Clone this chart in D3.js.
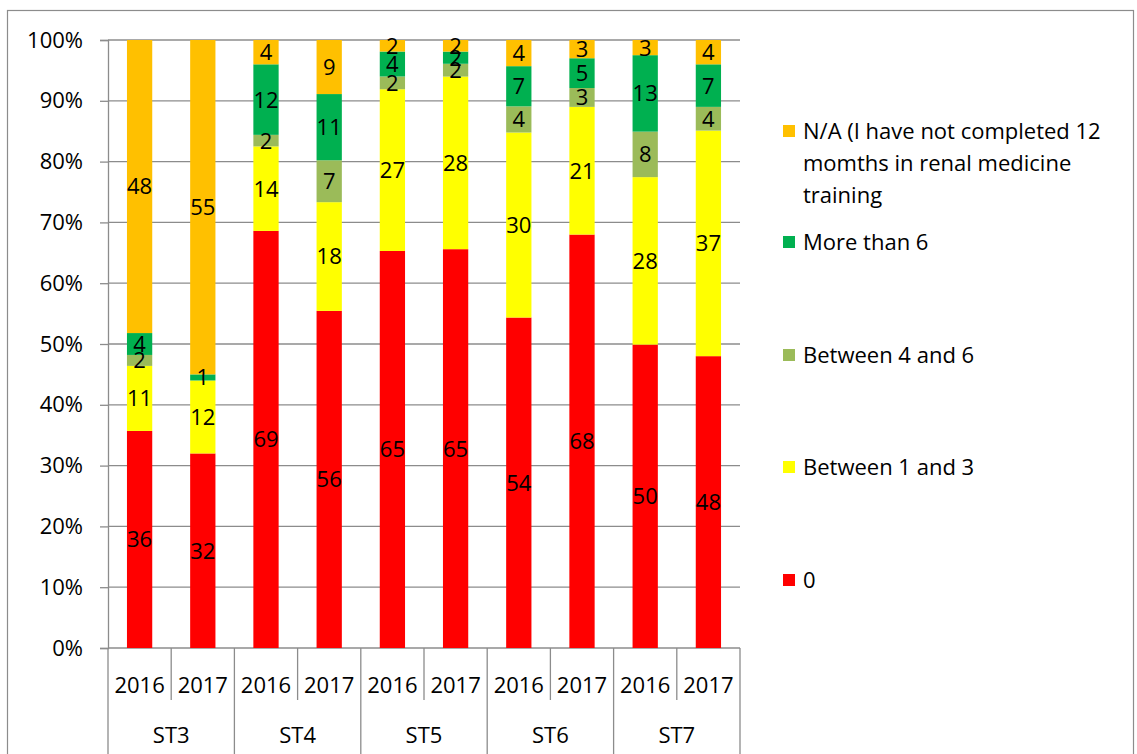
<!DOCTYPE html>
<html>
<head>
<meta charset="utf-8">
<script src="https://cdn.jsdelivr.net/npm/d3@7"></script>
<style>
  body { margin: 0; background: #fff; }
  text { font-family: "Open Sans", "Noto Sans", sans-serif; fill: #000; }
</style>
</head>
<body>
<svg id="chart" width="1137" height="754"></svg>
<script>
// data (percent of respondents)
var groups = ["ST3", "ST4", "ST5", "ST6", "ST7"];
var years = ["2016", "2017"];
var seriesNames = ["0", "Between 1 and 3", "Between 4 and 6", "More than 6",
                   "N/A (I have not completed 12 momths in renal medicine training"];
var seriesColors = ["#ff0000", "#ffff00", "#9bbb59", "#00b050", "#ffc000"];
var legendLines = [["0"], ["Between 1 and 3"], ["Between 4 and 6"], ["More than 6"],
                   ["N/A (I have not completed 12", "momths in renal medicine", "training"]];

// one array per series, in the order ST3 2016, ST3 2017, ST4 2016, ...
var zero       = [35.7, 32.0, 68.6, 55.5, 65.3, 65.4, 54.3, 68.0, 50.0, 48.0];
var oneToThree = [10.7, 12.0, 13.9, 17.9, 26.6, 28.3, 30.4, 21.0, 27.6, 37.1];
var fourToSix  = [1.8, 0, 1.9, 6.9, 2.1, 2.1, 4.3, 3.1, 7.5, 3.9];
var moreThan6  = [3.6, 1.0, 11.6, 10.9, 4.1, 2.0, 6.6, 4.9, 12.6, 7.0];
var notApplic  = [48.2, 55.0, 4.0, 8.9, 1.9, 1.9, 4.3, 3.0, 2.5, 4.0];
var yTicks = [0, 0.1, 0.2, 0.3, 0.4, 0.5, 0.6, 0.7, 0.8, 0.9, 1];

var seriesValues = [zero, oneToThree, fourToSix, moreThan6, notApplic];

var margin = {top: 40, left: 108},
    width = 632,
    height = 608;

var svg = d3.select("#chart");

// outer frame
svg.append("rect")
    .attr("x", 7.5).attr("y", 10.5)
    .attr("width", 1126).attr("height", 760)
    .attr("fill", "none").attr("stroke", "#8c8c8c").attr("stroke-width", 1.2);

var g = svg.append("g")
    .attr("transform", "translate(" + margin.left + "," + margin.top + ")");

var keys = [];
groups.forEach(function(gr) {
    years.forEach(function(yr) { keys.push(gr + "|" + yr); });
});

var x = d3.scaleBand()
    .domain(keys)
    .range([0, width])
    .paddingInner(0.6)
    .paddingOuter(0.3);

var y = d3.scaleLinear()
    .domain([0, 1])
    .range([height, 0]);

// rows for the stack, normalised to 100%
var rows = keys.map(function(k, i) {
    var total = d3.sum(seriesValues, function(s) { return s[i]; });
    var row = {key: k};
    seriesValues.forEach(function(s, j) { row["s" + j] = s[i] / total; row["v" + j] = s[i]; });
    return row;
});

var stack = d3.stack().keys(seriesValues.map(function(d, j) { return "s" + j; }));
var layers = stack(rows);

// gridlines
g.selectAll(".grid")
    .data(yTicks)
    .enter().append("line")
    .attr("x1", 0).attr("x2", width)
    .attr("y1", function(d) { return y(d); })
    .attr("y2", function(d) { return y(d); })
    .attr("stroke", "#8c8c8c").attr("stroke-width", 1.3);

// y axis
var yAxis = d3.axisLeft(y)
    .tickValues(yTicks)
    .tickFormat(d3.format(".0%"))
    .tickSize(8)
    .tickPadding(17);

var ya = g.append("g").call(yAxis);
ya.select(".domain").attr("stroke", "#8c8c8c").attr("stroke-width", 1.3);
ya.selectAll(".tick line").attr("stroke", "#8c8c8c").attr("stroke-width", 1.3);
ya.selectAll(".tick text").style("font-size", "22px").attr("font-family", null);

// bars
var layer = g.selectAll(".layer")
    .data(layers)
    .enter().append("g")
    .attr("fill", function(d, j) { return seriesColors[j]; });

layer.selectAll("rect")
    .data(function(d) { return d; })
    .enter().append("rect")
    .attr("x", function(d) { return x(d.data.key); })
    .attr("width", x.bandwidth())
    .attr("y", function(d) { return y(d[1]); })
    .attr("height", function(d) { return y(d[0]) - y(d[1]); });

// data labels (rounded values)
layers.forEach(function(L, j) {
    g.append("g").selectAll("text")
        .data(L.filter(function(d) { return d.data["v" + j] > 0; }))
        .enter().append("text")
        .attr("x", function(d) { return x(d.data.key) + x.bandwidth() / 2; })
        .attr("y", function(d) { return (y(d[0]) + y(d[1])) / 2; })
        .attr("dy", "0.36em")
        .attr("text-anchor", "middle")
        .style("font-size", "22px")
        .text(function(d) { return Math.round(d.data["v" + j]); });
});

// category axis (two levels)
var step = x.step();
var bottom = g.append("g").attr("transform", "translate(0," + height + ")");
d3.range(keys.length + 1).forEach(function(i) {
    bottom.append("line")
        .attr("x1", i * step).attr("x2", i * step)
        .attr("y1", 0).attr("y2", i % 2 === 0 ? 120 : 52)
        .attr("stroke", "#8c8c8c").attr("stroke-width", 1.3);
});

bottom.selectAll(".year")
    .data(keys)
    .enter().append("text")
    .attr("x", function(d) { return x(d) + x.bandwidth() / 2; })
    .attr("y", 45)
    .attr("text-anchor", "middle")
    .style("font-size", "22px")
    .text(function(d) { return d.split("|")[1]; });

bottom.selectAll(".group")
    .data(groups)
    .enter().append("text")
    .attr("x", function(d, i) { return (i * 2 + 1) * step; })
    .attr("y", 95)
    .attr("text-anchor", "middle")
    .style("font-size", "22px")
    .text(function(d) { return d; });

// legend, top entry is the last series
var legendY = [131, 242, 355, 467, 580];
var legend = svg.append("g");
d3.range(seriesNames.length).forEach(function(k) {
    var j = seriesNames.length - 1 - k;
    var item = legend.append("g").attr("transform", "translate(783," + legendY[k] + ")");
    item.append("rect")
        .attr("x", 0).attr("y", -6)
        .attr("width", 12).attr("height", 12)
        .attr("fill", seriesColors[j]);
    var t = item.append("text")
        .attr("x", 20).attr("y", 8)
        .style("font-size", "22px");
    legendLines[j].forEach(function(line, n) {
        t.append("tspan").attr("x", 20).attr("dy", n === 0 ? 0 : 32).text(line);
    });
});
</script>
</body>
</html>
